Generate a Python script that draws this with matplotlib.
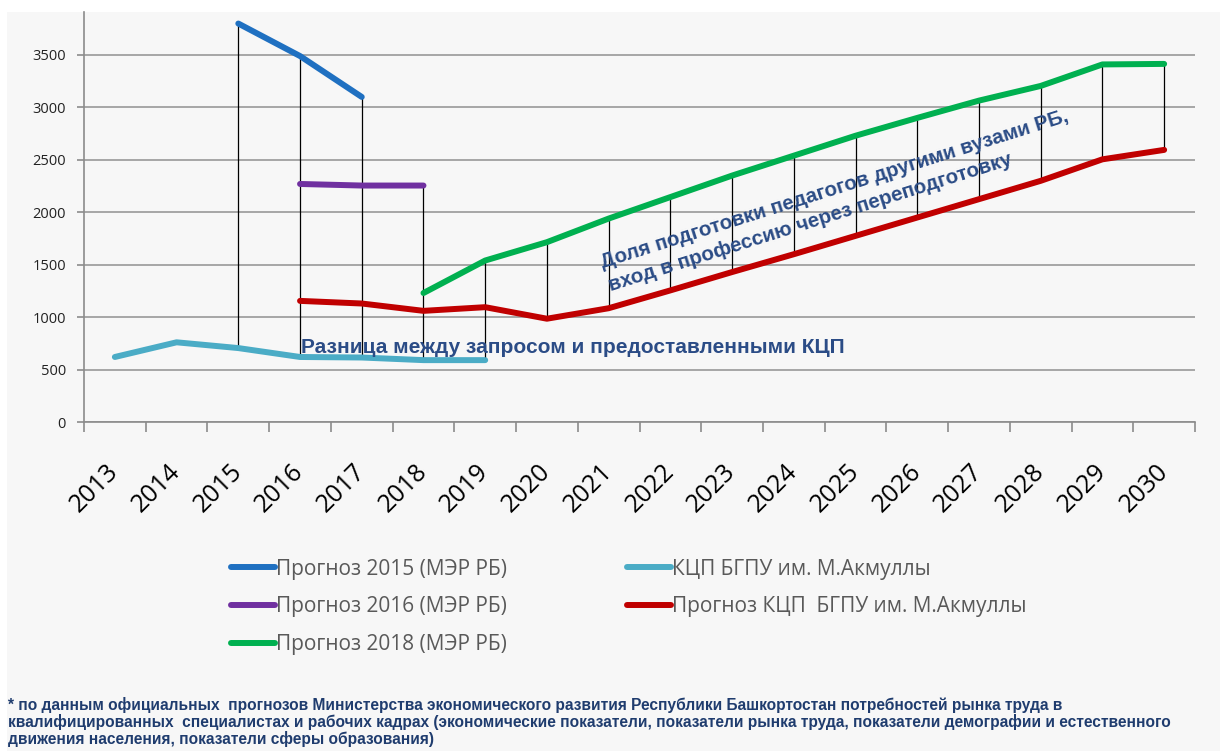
import numpy as np
import matplotlib
matplotlib.use('Agg')
import matplotlib.pyplot as plt
from matplotlib.patches import Rectangle

nan = np.nan

years = [str(y) for y in range(2013, 2031)]

# values
forecast_2015 = [nan, nan, 3800, 3490, 3100] + [nan] * 13
forecast_2016 = [nan, nan, nan, 2270, 2255, 2255] + [nan] * 12
forecast_2018 = [nan] * 5 + [1230, 1540, 1715, 1940, 2145, 2350, 2540, 2730, 2900, 3065, 3205, 3410, 3415]
kcp_bgpu = [620, 760, 705, 620, 615, 590, 590] + [nan] * 11
kcp_forecast = [nan, nan, nan, 1155, 1130, 1060, 1095, 985, 1085, 1255, 1430, 1600, 1775, 1950, 2125, 2300, 2505, 2595]

series_names = ['Прогноз 2015 (МЭР РБ)', 'Прогноз 2016 (МЭР РБ)', 'Прогноз 2018 (МЭР РБ)',
                'КЦП БГПУ им. М.Акмуллы', 'Прогноз КЦП  БГПУ им. М.Акмуллы']
series_colors = ['#1F70C1', '#7030A0', '#00B050', '#4BACC6', '#C00000']

note_gap = 'Разница между запросом и предоставленными КЦП'
note_share = ['Доля подготовки педагогов другими вузами РБ,',
              'вход в профессию через переподготовку']
footnote = ['* по данным официальных  прогнозов Министерства экономического развития Республики Башкортостан потребностей рынка труда в',
            'квалифицированных  специалистах и рабочих кадрах (экономические показатели, показатели рынка труда, показатели демографии и естественного',
            'движения населения, показатели сферы образования)']

W, H = 1220, 751
fig = plt.figure(figsize=(W / 100, H / 100), dpi=100, facecolor='white')
fig.patches.append(Rectangle((7 / W, 0), 1, (H - 12) / H, transform=fig.transFigure,
                             facecolor='#f7f7f7', edgecolor='none', zorder=-10))

ax = fig.add_axes([84 / W, (H - 422) / H, (1195 - 84) / W, (422 - 12) / H])
ax.set_facecolor('none')

x = np.arange(len(years))
all_series = [forecast_2015, forecast_2016, forecast_2018, kcp_bgpu, kcp_forecast]
data = np.array(all_series, dtype=float)

# high-low lines between the highest and lowest series in each year
for i in x:
    col = data[:, i]
    col = col[~np.isnan(col)]
    if len(col) > 1:
        ax.vlines(i, col.min(), col.max(), color='black', lw=0.9, zorder=2)

handles = []
for vals, name, c in zip(all_series, series_names, series_colors):
    ln, = ax.plot(x, vals, color=c, lw=4.3, solid_capstyle='round', solid_joinstyle='round',
                  label=name, zorder=3)
    handles.append(ln)

ax.set_xlim(-0.5, len(years) - 0.5)
ax.set_ylim(0, 3910)
ax.set_yticks(np.arange(0, 3501, 500))
ax.set_xticks(x)
ax.set_xticks(np.arange(-0.5, len(years), 1), minor=True)
ax.set_xticklabels(years, rotation=45, ha='right', va='center', rotation_mode='anchor',
                   fontsize=18, family='Open Sans', color='#000000')
ax.tick_params(axis='x', which='major', length=0, pad=33)
ax.tick_params(axis='x', which='minor', length=7, color='#8c8c8c', width=1.2)
ax.tick_params(axis='y', length=5, color='#8c8c8c', width=1.2, pad=8, labelsize=10.5,
               labelcolor='#222222')
for t in ax.get_yticklabels():
    t.set_family('Open Sans')

for s in ['top', 'right']:
    ax.spines[s].set_visible(False)
for s in ['left', 'bottom']:
    ax.spines[s].set_color('#8c8c8c')
    ax.spines[s].set_linewidth(1.2)
ax.yaxis.grid(True, color='#a0a0a0', lw=1.3)
ax.set_axisbelow(True)

ax.text(3.02, 660, note_gap, fontsize=15, fontweight='bold', family='Liberation Sans',
        color='#2B4C86', zorder=4)
ax.text(7.9, 1470, note_share[0], fontsize=14.8, fontweight='bold', family='Liberation Sans',
        color='#2B4C86', rotation=17.5, rotation_mode='anchor', ha='left', va='baseline', zorder=4)
ax.text(8.03, 1250, note_share[1], fontsize=14.8, fontweight='bold', family='Liberation Sans',
        color='#2B4C86', rotation=17.5, rotation_mode='anchor', ha='left', va='baseline', zorder=4)

leg = ax.legend(handles=handles, loc='upper left', bbox_to_anchor=(212 / W, 1 - 540 / H),
                bbox_transform=fig.transFigure, ncol=2, frameon=False, handlelength=2.1,
                handletextpad=0.05, labelspacing=0.8, columnspacing=5.8,
                prop={'family': 'Open Sans', 'size': 15})
for t in leg.get_texts():
    t.set_color('#595959')

for k, line in enumerate(footnote):
    fig.text(8 / W, 1 - (705 + 17 * k) / H, line, fontsize=11.2, fontweight='bold',
             family='Liberation Sans', color='#1F3C6E', va='center')

fig.savefig('out.png', dpi=100, facecolor=fig.get_facecolor())
